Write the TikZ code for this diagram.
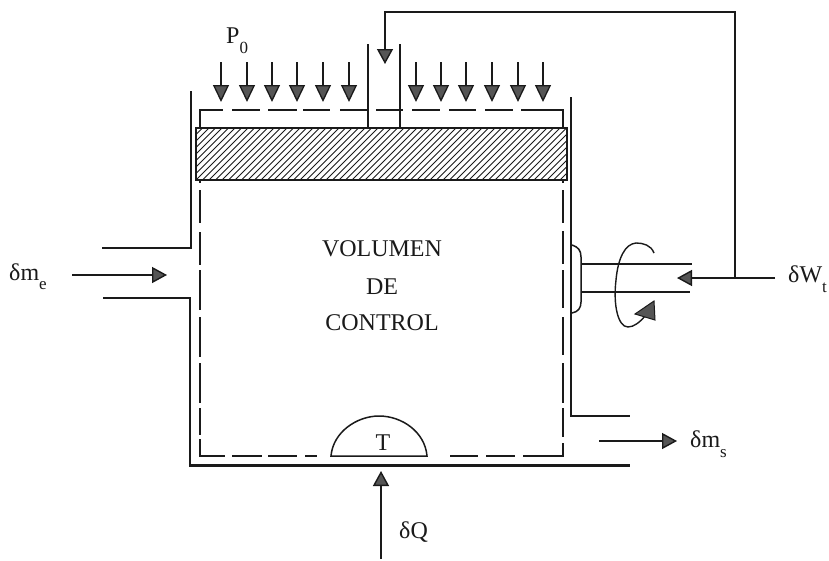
\documentclass[tikz,border=0pt]{standalone}
\usepackage{fontspec}
\setmainfont{Liberation Serif}
\usetikzlibrary{arrows.meta}
\definecolor{ink}{HTML}{1A1A1A}
\definecolor{tipfill}{HTML}{555555}
\newcommand{\subdown}[2]{\raisebox{-#1pt}{\fontsize{17}{20}\selectfont #2}}
\tikzset{
  x=1pt,y=-1pt,
  wall/.style={draw=ink,line width=2.1pt},
  thin wall/.style={draw=ink,line width=1.5pt},
  flow/.style={draw=ink,line width=1.4pt,-{Triangle[length=15pt,width=16pt,fill=tipfill]}},
  press/.style={draw=ink,line width=1.3pt,-{Triangle[length=17pt,width=16pt,fill=tipfill]}},
  lbl/.style={font=\fontsize{24}{28}\selectfont,text=ink,inner sep=0pt},
}
\begin{document}
\begin{tikzpicture}
\useasboundingbox (0,0) rectangle (829,560);
\fill[white] (0,0) rectangle (829,560);
% walls
\draw[wall] (102,248) -- (191,248) -- (191,91);
\draw[wall] (103,298) -- (190,298) -- (190,465.5) -- (630,465.5);
\draw[wall] (571,97) -- (571,416) -- (630,416);
% piston hatching
\begin{scope}
\clip (196,128) rectangle (567,180);
\foreach \h in {144,150.5,...,570}{
  \draw[ink,line width=0.8pt] (\h,180) -- (\h+52,128);
}
\end{scope}
\draw[wall] (196,128) rectangle (567,180);
% stem
\coordinate (stemL) at (368,44);
\coordinate (stemR) at (400,44);
\draw[thin wall] (stemL) -- (368,128);
\draw[thin wall] (stemR) -- (400,128);
% control volume above the piston
\draw[thin wall] (200,128) -- (200,110) -- (223,110);
\draw[thin wall] (232,110) -- (260,110) (268,110) -- (297,110) (303,110) -- (330,110) (340,110) -- (368,110);
\draw[thin wall] (376,110) -- (403,110);
\draw[thin wall] (412,110) -- (440,110) (449,110) -- (476,110) (485,110) -- (513,110);
\draw[thin wall] (521,110) -- (563,110) -- (563,128);
% control volume below the piston
\draw[thin wall] (200,180) -- (200,183) (200,190) -- (200,223) (200,232) -- (200,265) (200,270) -- (200,310) (200,317) -- (200,357) (200,363) -- (200,403) (200,408) -- (200,435) (200,439) -- (200,456) -- (225,456);
\draw[thin wall] (232,456) -- (262,456) (268,456) -- (297,456) (305,456) -- (317,456);
\draw[thin wall] (450,456) -- (478,456) (486,456) -- (515,456) (523,456) -- (563,456) -- (563,443);
\draw[thin wall] (563,180) -- (563,183) (563,190) -- (563,223) (563,231) -- (563,264) (563,270) -- (563,308) (563,317) -- (563,355) (563,363) -- (563,403) (563,408) -- (563,437);
% thermometer dome
\draw[thin wall] (331,456) .. controls (333,432) and (357,416) .. (379,416) .. controls (402,416) and (425,432) .. (427,456) -- cycle;
\node[lbl,anchor=base] (T) at (383,450) {T};
% pressure arrows
\foreach \px in {221,247,272,297,323,349,416,441,466,492,518,543}{
  \draw[press] (\px,62) -- (\px,102);
}
\node[lbl,anchor=base west] (P) at (226,43) {P\subdown{10}{0}};
% work line
\coordinate (wTop) at (735,12);
\coordinate (wJoin) at (735,278);
\coordinate (wCorner) at (385,12);
\coordinate (wTip) at (385,64);
\node[lbl,anchor=base west] (W) at (788,282) {δW\subdown{10}{t}};
\draw[flow] (wJoin) -- (wTop) -- (wCorner) -- (wTip);
\coordinate (wStart) at (775,278);
\coordinate (wEnd) at (677,278);
\draw[flow] (wStart) -- (wEnd);
% shaft
\draw[thin wall] (581,264) -- (692,264);
\draw[thin wall] (581,292) -- (690,292);
\draw[thin wall] (572,245) .. controls (578,247) and (581,250) .. (581,257) -- (581,302) .. controls (581,308) and (578,312) .. (572,313);
% rotation
\draw[draw=ink,line width=1.4pt] (654,253) .. controls (651,245) and (643,243) .. (636,243) .. controls (625,244) and (618,258) .. (616,280) .. controls (613,305) and (618,327) .. (628,327) .. controls (634,327) and (640,322) .. (645,316);
\fill[tipfill,draw=ink,line width=1pt] (635,314) -- (654,301) -- (655,320) -- cycle;
% inlet / outlet / heat
\coordinate (mIn) at (72,275);
\coordinate (mInTip) at (167,275);
\draw[flow] (mIn) -- (mInTip);
\node[lbl,anchor=base west] (me) at (9,280) {δm\subdown{9}{e}};
\coordinate (mOut) at (599,441);
\coordinate (mOutTip) at (677,441);
\draw[flow] (mOut) -- (mOutTip);
\node[lbl,anchor=base west] (ms) at (690,447) {δm\subdown{10}{s}};
\coordinate (qS) at (381,559);
\coordinate (qTip) at (381,471);
\draw[flow] (qS) -- (qTip);
\node[lbl,anchor=base west] (Q) at (399,538) {δQ};
% text
\node[lbl] (v1) at (382,249) {VOLUMEN};
\node[lbl] (v2) at (382,287) {DE};
\node[lbl] (v3) at (382,323) {CONTROL};
\end{tikzpicture}
\end{document}
